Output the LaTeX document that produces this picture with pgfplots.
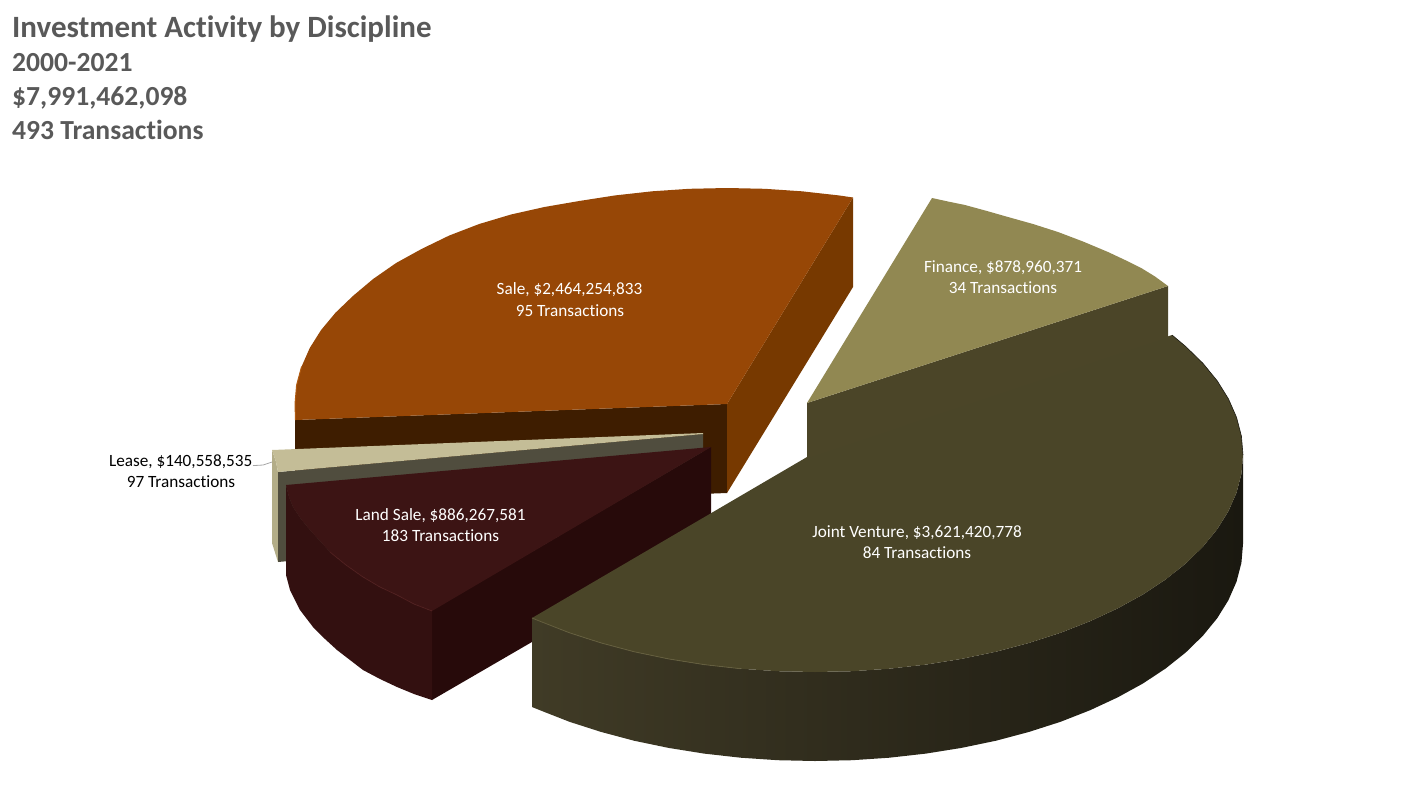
\documentclass[border=0pt]{standalone}
\usepackage{fontspec}
\setmainfont{Carlito}[Ligatures=NoCommon]
\usepackage{pgfplots}
\pgfplotsset{compat=1.18}

\definecolor{titlegray}{HTML}{595959}
\definecolor{saletop}{HTML}{974706}
\definecolor{saleside}{HTML}{773900}
\definecolor{salefront}{HTML}{3E1D00}
\definecolor{saleedge}{HTML}{B05A10}
\definecolor{leasetop}{HTML}{C4BD97}
\definecolor{leaseside}{HTML}{B3AD88}
\definecolor{leasefront}{HTML}{504D3E}
\definecolor{landtop}{HTML}{3C1414}
\definecolor{landside}{HTML}{331010}
\definecolor{landfront}{HTML}{270A0A}
\definecolor{landedge}{HTML}{4E1E1E}
\definecolor{jvtop}{HTML}{4A4528}
\definecolor{jvleft}{HTML}{403B26}
\definecolor{jvmid}{HTML}{231F14}
\definecolor{jvright}{HTML}{1A1810}
\definecolor{jvedge}{HTML}{645E3E}
\definecolor{fintop}{HTML}{918852}
\definecolor{finfront}{HTML}{4B4528}

\tikzset{
  dlabel/.style={font=\fontsize{17.2}{19}\selectfont, text=white, inner sep=0pt, anchor=base},
  head/.style={font=\fontsize{27.6}{30}\selectfont\bfseries, text=titlegray, inner sep=0pt, anchor=base west},
}

\begin{document}
\begin{tikzpicture}
\useasboundingbox (0,0) rectangle (1426pt,796pt);
\begin{axis}[
    scale only axis,
    width=1426pt, height=796pt,
    xmin=0, xmax=1426,
    ymin=0, ymax=796,
    y dir=reverse,
    hide axis,
    clip=false,
  ]
  % Sale
  \addplot[draw=none, fill=salefront] coordinates {(295,420)(727,404)(727,493)(295,509)} --cycle;
  \addplot[draw=none, fill=saleside] coordinates {(853,197.5)(853,287)(727,493)(727,404)} --cycle;
  \addplot[draw=none, fill=saletop] coordinates {
    (295.5,420)(295,404)(296.6,385.2)(301.6,366.5)(309.7,348.1)(321,330.1)(335.5,312.7)(352.9,296)
    (373.1,279)(396.1,263)(421.5,249)(449.3,235.5)(479.2,224)(511,214.5)(544.4,207)(579.2,201)
    (615.2,195.4)(652,191.3)(689.3,188.8)(727,188)(764.7,188.8)(802,191.3)(838.8,195.4)(853,197.5)(727,404)
  } --cycle;
  \addplot[saleedge, line width=1pt] coordinates {(295.5,420)(295,404)(296.6,385.2)(301.6,366.5)};

  % Lease
  \addplot[draw=none, fill=leaseside] coordinates {(272,450)(276,462)(278,472)(278,562)(272,543)} --cycle;
  \addplot[draw=none, fill=leasefront] coordinates {(278,472)(703,434)(703,523)(278,562)} --cycle;
  \addplot[draw=none, fill=leasetop] coordinates {(272,450)(703,433)(703,434)(278,472)(276,462)} --cycle;
  \addplot[color=gray!70, line width=0.8pt] coordinates {(253,465.6)(263,465)(272,462)};

  % Land Sale
  \addplot[draw=none, fill=landfront] coordinates {(432,610)(711,447)(711,538)(432,700)} --cycle;
  \addplot[draw=none, fill=landside] coordinates {
    (286,485)(289,497)(293,507)(301,519)(310,530)(320,541)(330,552)(346,565)(363,577)(380,587)(397,595)(414,604)(432,611)
    (432,700)(414,694)(397,687)(380,679)(363,670)(350,660)(337,650)(325,639)(313,627)(300,610)(290,590)(286,575)
  } --cycle;
  \addplot[draw=none, fill=landtop] coordinates {
    (711,447)(286,485)(289,497)(293,507)(301,519)(310,530)(320,541)(330,552)(346,565)(363,577)(380,587)(397,595)(414,604)(432,611)
  } --cycle;
  \addplot[landedge, line width=0.8pt] coordinates {(330,552)(346,565)(363,577)(380,587)(397,595)(414,604)(432,611)};

  % Joint Venture
  \addplot[draw=none, left color=jvleft, middle color=jvmid, right color=jvright] coordinates {
    (1243,455)(1241.4,473.9)(1236.5,492.7)(1228.4,511.2)(1217.2,529.2)(1202.9,546.7)(1185.7,563.5)(1165.6,579.5)
    (1142.9,594.5)(1117.6,608.4)(1090.1,621.2)(1060.5,632.8)(1029,642.9)(996,651.7)(961.4,658.9)(925.8,664.6)
    (889.3,668.7)(852.3,671.2)(815,672)(777.7,671.2)(740.7,668.7)(704.2,664.6)(668.6,658.9)(634,651.7)(601,642.9)
    (569.5,632.8)(539.9,621.2)(532,618)
    (532,707)(539.9,710.2)(569.5,721.8)(601,731.9)(634,740.7)(668.6,747.9)(704.2,753.6)(740.7,757.7)(777.7,760.2)
    (815,761)(852.3,760.2)(889.3,757.7)(925.8,753.6)(961.4,747.9)(996,740.7)(1029,731.9)(1060.5,721.8)(1090.1,710.2)
    (1117.6,697.4)(1142.9,683.5)(1165.6,668.5)(1185.7,652.5)(1202.9,635.7)(1217.2,618.2)(1228.4,600.2)(1236.5,581.7)
    (1241.4,562.9)(1243,544)
  } --cycle;
  \addplot[draw=none, fill=jvtop] coordinates {
    (807,457)(1172,335)(1185.7,346.5)(1202.9,363.3)(1217.2,380.8)(1228.4,398.8)(1236.5,417.3)(1241.4,436.1)(1243,455)
    (1241.4,473.9)(1236.5,492.7)(1228.4,511.2)(1217.2,529.2)(1202.9,546.7)(1185.7,563.5)(1165.6,579.5)
    (1142.9,594.5)(1117.6,608.4)(1090.1,621.2)(1060.5,632.8)(1029,642.9)(996,651.7)(961.4,658.9)(925.8,664.6)
    (889.3,668.7)(852.3,671.2)(815,672)(777.7,671.2)(740.7,668.7)(704.2,664.6)(668.6,658.9)(634,651.7)(601,642.9)
    (569.5,632.8)(539.9,621.2)(532,618)
  } --cycle;
  \addplot[jvedge, line width=0.8pt] coordinates {
    (532,618)(539.9,621.2)(569.5,632.8)(601,642.9)(634,651.7)(668.6,658.9)(704.2,664.6)(740.7,668.7)
  };
  \addplot[jvright, line width=0.6pt] coordinates {
    (1172,335)(1185.7,346.5)(1202.9,363.3)(1217.2,380.8)(1228.4,398.8)(1236.5,417.3)(1241.4,436.1)(1243,455)
  };

  % Finance
  \addplot[draw=none, fill=finfront] coordinates {(807,403)(1168,286)(1168,337.5)(807,458.5)} --cycle;
  \addplot[draw=none, fill=fintop] coordinates {
    (932,198)(948,201.5)(965,205)(987,211)(1008,217)(1033,224)(1058,232)(1083,241.5)(1108,252)(1125,260)
    (1142,268.5)(1155,276.5)(1168,286)(807,403)
  } --cycle;

  % Data labels
  \node[dlabel] at (axis cs:569.5,294.5) {Sale, \$2,464,254,833};
  \node[dlabel] at (axis cs:570,316) {95 Transactions};
  \node[dlabel] at (axis cs:1003,272) {Finance, \$878,960,371};
  \node[dlabel] at (axis cs:1003,293) {34 Transactions};
  \node[dlabel] at (axis cs:917,537) {Joint Venture, \$3,621,420,778};
  \node[dlabel] at (axis cs:917,558) {84 Transactions};
  \node[dlabel] at (axis cs:440.5,520) {Land Sale, \$886,267,581};
  \node[dlabel] at (axis cs:440.5,541) {183 Transactions};
  \node[dlabel, text=black] at (axis cs:180.7,466) {Lease, \$140,558,535};
  \node[dlabel, text=black] at (axis cs:181,487) {97 Transactions};

  % Title block
  \node[head, font=\fontsize{31}{34}\selectfont\bfseries] at (axis cs:12,37) {Investment Activity by Discipline};
  \node[head] at (axis cs:12,71) {2000-2021};
  \node[head] at (axis cs:12,105) {\$7,991,462,098};
  \node[head] at (axis cs:12,139) {493 Transactions};
\end{axis}
\end{tikzpicture}
\end{document}
